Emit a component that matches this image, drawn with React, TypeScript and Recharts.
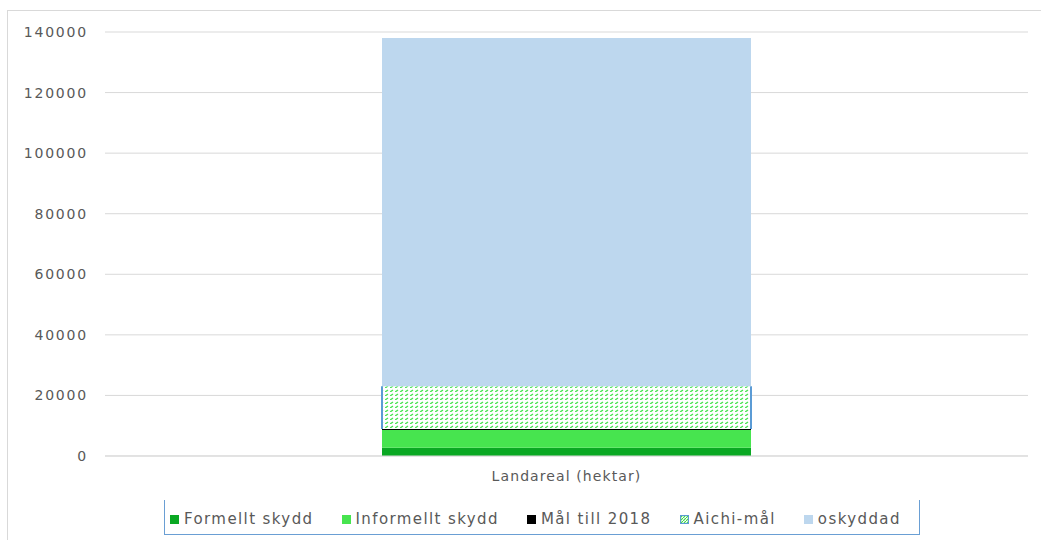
import React from 'react';
import { BarChart, Bar, XAxis, YAxis, CartesianGrid } from 'recharts';

// values (hectares)
const categories = ['Landareal (hektar)'];
const formelltSkydd = [2700];
const informelltSkydd = [5900];
const malTill2018 = [330];
const aichiMal = [14070];
const oskyddad = [115000];
const yTicks = [0, 20000, 40000, 60000, 80000, 100000, 120000, 140000];

const data = categories.map((name, i) => ({
  name,
  formellt: formelltSkydd[i],
  informellt: informelltSkydd[i],
  mal: malTill2018[i],
  aichi: aichiMal[i],
  oskyddad: oskyddad[i],
}));

const series = [
  { key: 'formellt', label: 'Formellt skydd', color: '#0AA823' },
  { key: 'informellt', label: 'Informellt skydd', color: '#47E44F' },
  { key: 'mal', label: 'Mål till 2018', color: '#000000' },
  { key: 'aichi', label: 'Aichi-mål', color: 'url(#aichiHatch)' },
  { key: 'oskyddad', label: 'oskyddad', color: '#BDD7EE' },
];

const textColor = '#595959';
const font = '"DejaVu Sans", sans-serif';

// hatched segment with blue edges on the sides only
const AichiShape = (props: any) => {
  const { x, y, width, height } = props;
  return (
    <g>
      <rect x={x} y={y} width={width} height={height} fill="url(#aichiHatch)" />
      <line x1={x} y1={y} x2={x} y2={y + height} stroke="#5B9BD5" strokeWidth={2} />
      <line x1={x + width} y1={y} x2={x + width} y2={y + height} stroke="#5B9BD5" strokeWidth={2} />
    </g>
  );
};

const LegendBox = () => (
  <div
    style={{
      position: 'absolute',
      left: 164,
      top: 500,
      width: 756,
      height: 35,
      borderLeft: '1px solid #6A9FD4',
      borderRight: '1px solid #6A9FD4',
      borderBottom: '1px solid #6A9FD4',
      boxSizing: 'border-box',
      display: 'flex',
      flexWrap: 'nowrap',
      alignItems: 'center',
      paddingLeft: 5,
      paddingTop: 4,
      fontFamily: font,
      fontSize: 15,
      letterSpacing: 1.4,
      color: textColor,
      whiteSpace: 'nowrap',
    }}
  >
    {series.map((s) => (
      <div key={s.key} style={{ display: 'flex', alignItems: 'center', marginRight: 28, flexShrink: 0 }}>
        {s.key === 'aichi' ? (
          <svg width={9} height={9} style={{ marginRight: 5 }}>
            <rect x={0.5} y={0.5} width={8} height={8} fill="url(#aichiHatchLegend)" stroke="#5B9BD5" strokeWidth={1} />
            <defs>
              <pattern id="aichiHatchLegend" patternUnits="userSpaceOnUse" width={3} height={3}>
                <rect width={3} height={3} fill="#fff" />
                <path d="M0,3 L3,0" stroke="#3DD645" strokeWidth={1.2} />
              </pattern>
            </defs>
          </svg>
        ) : (
          <span style={{ display: 'inline-block', width: 9, height: 9, background: s.color, marginRight: 5 }} />
        )}
        <span>{s.label}</span>
      </div>
    ))}
  </div>
);

export default function App() {
  return (
    <div style={{ position: 'absolute', left: 0, top: 0, width: 1041, height: 540, background: '#fff' }}>
      <div
        style={{
          position: 'absolute',
          left: 7,
          top: 10,
          width: 1040,
          height: 540,
          border: '1px solid #D9D9D9',
          boxSizing: 'border-box',
        }}
      />
      <div style={{ position: 'absolute', left: 0, top: 0 }}>
        <BarChart width={1041} height={540} data={data} margin={{ top: 32, right: 13, bottom: 54, left: 0 }}>
          <defs>
            <pattern id="aichiHatch" patternUnits="userSpaceOnUse" width={5} height={4}>
              <rect width={5} height={4} fill="#fff" />
              <path d="M0,4 L3,2" stroke="#47E44F" strokeWidth={1.4} />
            </pattern>
          </defs>
          <CartesianGrid vertical={false} stroke="#D9D9D9" />
          <XAxis
            dataKey="name"
            height={30}
            axisLine={{ stroke: '#D9D9D9' }}
            tickLine={false}
            tickSize={0}
            tickMargin={15}
            tick={{ fill: textColor, fontSize: 14, fontFamily: font, letterSpacing: 1.1 }}
          />
          <YAxis
            width={105}
            domain={[0, 140000]}
            ticks={yTicks}
            axisLine={false}
            tickLine={false}
            tickSize={0}
            tickMargin={17}
            tick={{ fill: textColor, fontSize: 14, fontFamily: font, letterSpacing: 1.8 }}
          />
          <Bar dataKey="formellt" stackId="a" fill="#0AA823" barSize={369} isAnimationActive={false} />
          <Bar dataKey="informellt" stackId="a" fill="#47E44F" barSize={369} isAnimationActive={false} />
          <Bar dataKey="mal" stackId="a" fill="#000000" barSize={369} isAnimationActive={false} />
          <Bar dataKey="aichi" stackId="a" fill="url(#aichiHatch)" shape={AichiShape} barSize={369} isAnimationActive={false} />
          <Bar dataKey="oskyddad" stackId="a" fill="#BDD7EE" barSize={369} isAnimationActive={false} />
        </BarChart>
      </div>
      <LegendBox />
    </div>
  );
}
